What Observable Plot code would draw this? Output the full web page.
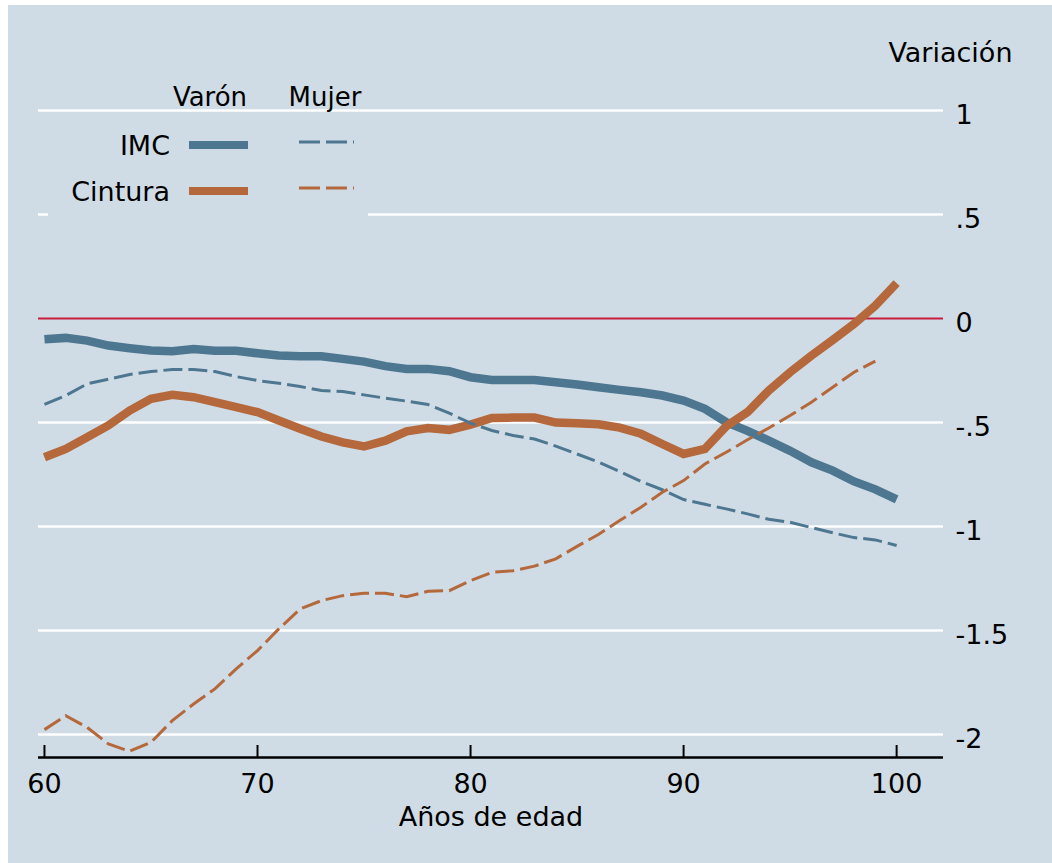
<!DOCTYPE html>
<html>
<head>
<meta charset="utf-8">
<script src="https://cdn.jsdelivr.net/npm/d3@7"></script>
<script src="https://cdn.jsdelivr.net/npm/@observablehq/plot@0.6"></script>
<style>
  html, body { margin: 0; padding: 0; background: #ffffff; }
  #wrap { position: absolute; left: 8px; top: 5px; width: 1044px; height: 858px; background: #d0dce5; overflow: hidden; }
  #wrap svg { position: absolute; left: 0; top: 0; }
</style>
</head>
<body>
<div id="wrap"></div>
<script>
// ---- Data ----
const years = [60,61,62,63,64,65,66,67,68,69,70,71,72,73,74,75,76,77,78,79,80,
               81,82,83,84,85,86,87,88,89,90,91,92,93,94,95,96,97,98,99,100];

const imcVaron = [-0.100,-0.093,-0.106,-0.130,-0.143,-0.154,-0.157,-0.146,-0.155,-0.155,
                  -0.167,-0.178,-0.181,-0.181,-0.194,-0.207,-0.229,-0.242,-0.242,-0.253,
                  -0.282,-0.295,-0.295,-0.295,-0.306,-0.317,-0.330,-0.343,-0.354,-0.370,
                  -0.394,-0.434,-0.498,-0.540,-0.587,-0.636,-0.691,-0.731,-0.783,-0.821,-0.869];

const cinturaVaron = [-0.667,-0.627,-0.571,-0.514,-0.442,-0.386,-0.367,-0.378,-0.402,-0.426,
                      -0.450,-0.490,-0.530,-0.567,-0.595,-0.615,-0.587,-0.542,-0.526,-0.535,
                      -0.510,-0.478,-0.476,-0.476,-0.500,-0.503,-0.508,-0.524,-0.554,-0.603,
                      -0.651,-0.627,-0.518,-0.450,-0.346,-0.258,-0.178,-0.103,-0.026,0.062,0.170];

const imcMujer = [-0.413,-0.370,-0.314,-0.292,-0.269,-0.255,-0.245,-0.245,-0.255,-0.279,
                  -0.298,-0.311,-0.327,-0.346,-0.351,-0.367,-0.383,-0.397,-0.413,-0.455,
                  -0.503,-0.538,-0.562,-0.579,-0.613,-0.651,-0.690,-0.735,-0.783,-0.823,
                  -0.870,-0.893,-0.915,-0.939,-0.965,-0.979,-1.005,-1.030,-1.053,-1.064,-1.091];

const cinturaMujer = [-1.976,-1.909,-1.965,-2.045,-2.080,-2.037,-1.933,-1.853,-1.780,-1.684,
                      -1.596,-1.492,-1.396,-1.356,-1.332,-1.321,-1.321,-1.337,-1.311,-1.308,
                      -1.260,-1.220,-1.212,-1.190,-1.155,-1.095,-1.038,-0.971,-0.907,-0.835,
                      -0.779,-0.699,-0.643,-0.583,-0.526,-0.466,-0.402,-0.330,-0.258,-0.205];

const yTicks = [1, 0.5, 0, -0.5, -1, -1.5, -2];
const xTicks = [60, 70, 80, 90, 100];
const gridValues = [1, 0.5, -0.5, -1, -1.5, -2];
const zeroLine = [0];

const blue = "#4d7791";
const orange = "#b4683b";
const red = "#c91d3e";
const font = "DejaVu Sans";

// series table built from the arrays
const series = [
  {name: "IMC", sexo: "Varón", values: imcVaron, color: blue, width: 8.5, dash: null},
  {name: "Cintura", sexo: "Varón", values: cinturaVaron, color: orange, width: 8.5, dash: null},
  {name: "IMC", sexo: "Mujer", values: imcMujer, color: blue, width: 3, dash: "19,6"},
  {name: "Cintura", sexo: "Mujer", values: cinturaMujer, color: orange, width: 3, dash: "19,6"}
];
const rows = s => s.values.map((v, i) => ({edad: years[i], valor: v}));

const fmt = d => d === 0 ? "0" : (String(d).replace("0.", "."));

const W = 1044, H = 858;
const xDomain = [59.72, 102.2];
const yDomain = [-2.11, 1];

const marks = [
  Plot.ruleY(gridValues, {stroke: "#ffffff", strokeWidth: 2.5}),
  Plot.ruleY(zeroLine, {stroke: red, strokeWidth: 2}),
  Plot.ruleY([yDomain[0]], {stroke: "#000000", strokeWidth: 2.5}),
  Plot.axisY(yTicks, {anchor: "right", tickSize: 0, tickPadding: 12, tickFormat: fmt, label: null, dy: 5, fontSize: 27, fill: "#000"}),
  Plot.axisX(xTicks, {anchor: "bottom", tickSize: -12, tickPadding: 28, strokeWidth: 2, stroke: "#000", tickFormat: d => String(d), label: null, fontSize: 27, fill: "#000"}),
  Plot.text(["Años de edad"], {frameAnchor: "bottom", dy: 68, fontSize: 27, fill: "#000"}),
  Plot.text(["Variación"], {frameAnchor: "top-right", dx: 69, dy: -68, textAnchor: "end", fontSize: 27, fill: "#000"})
];
for (const s of series) {
  marks.push(Plot.line(rows(s), {
    x: "edad", y: "valor", stroke: s.color, strokeWidth: s.width,
    strokeDasharray: s.dash, strokeLinecap: "butt", strokeLinejoin: "miter", strokeMiterlimit: 4
  }));
}

const chart = Plot.plot({
  width: W, height: H,
  marginLeft: 30, marginRight: 109, marginTop: 105, marginBottom: 106,
  x: {domain: xDomain},
  y: {domain: yDomain},
  style: {background: "transparent", fontFamily: font, fontSize: "27px", color: "#000"},
  marks
});
document.getElementById("wrap").appendChild(chart);

// ---- Legend (overlay) ----
const legendHeads = ["Varón", "Mujer"];
const legendRows = ["IMC", "Cintura"];
const leg = d3.select("#wrap").append("svg")
  .attr("width", W).attr("height", H)
  .style("font-family", font);
leg.append("rect").attr("x", 40).attr("y", 116).attr("width", 320).attr("height", 108).attr("fill", "#d0dce5");
leg.selectAll("text.head").data(legendHeads).join("text")
  .attr("x", (d, i) => [202, 317][i]).attr("y", 92).attr("dy", "0.35em")
  .attr("text-anchor", "middle").attr("font-size", 26).text(d => d);
leg.selectAll("text.row").data(legendRows).join("text")
  .attr("x", 162).attr("y", (d, i) => [141, 187][i]).attr("dy", "0.35em")
  .attr("text-anchor", "end").attr("font-size", 27).text(d => d);
series.forEach(s => {
  const r = legendRows.indexOf(s.name);
  const isV = s.sexo === "Varón";
  const y = isV ? [140, 186][r] : [137, 183][r];
  leg.append("line")
    .attr("x1", isV ? 181 : 291).attr("x2", isV ? 240 : 346)
    .attr("y1", y).attr("y2", y)
    .attr("stroke", s.color).attr("stroke-width", isV ? 8 : 3)
    .attr("stroke-dasharray", s.dash ? "21,6" : null);
});
</script>
</body>
</html>
